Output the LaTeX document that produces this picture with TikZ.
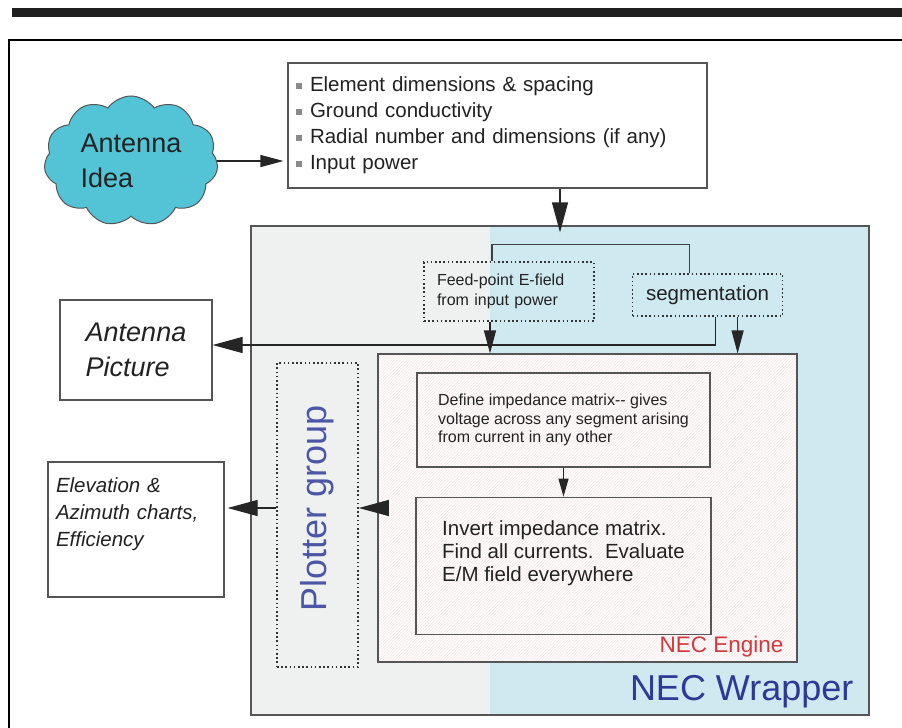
\documentclass[tikz,border=0pt]{standalone}
\usepackage{fontspec}
\setmainfont{Liberation Sans}
\usepackage{xcolor}
\usetikzlibrary{shapes.geometric, shapes.symbols, arrows.meta, positioning, patterns}

\definecolor{cloudcyan}{HTML}{52C4D6}
\definecolor{wrapblue}{HTML}{CFE9F1}
\definecolor{wrapgray}{HTML}{EFF1F1}
\definecolor{boxline}{HTML}{555555}
\definecolor{necblue}{HTML}{2B3A96}
\definecolor{necred}{HTML}{D03A3E}
\definecolor{bulgray}{HTML}{8A8A8A}
\definecolor{txt}{HTML}{222222}

\newcommand{\sqbul}{\textcolor{bulgray}{\rule[2.5pt]{6pt}{6pt}}\hspace{8pt}}
\newcommand{\fsz}[2]{\fontsize{#1}{#2}\selectfont}

\tikzstyle{plainbox} = [rectangle, draw=boxline, line width=1.2pt, text=txt]
\tikzstyle{dotbox} = [rectangle, draw=black!80, line width=1.6pt, dash pattern=on 1.6pt off 2.6pt, text=txt]
\tikzstyle{arrow} = [line width=1.2pt, draw=black!85, -{Triangle[length=23pt,width=12pt]}]
\tikzstyle{bigarrow} = [line width=1.2pt, draw=black!85, -{Triangle[length=30pt,width=16pt]}]
\tikzstyle{smallarrow} = [line width=1.2pt, draw=black!85, -{Triangle[length=18pt,width=10pt]}]
\tikzstyle{joinline} = [line width=1.2pt, draw=black!75]

\begin{document}
\begin{tikzpicture}[x=1pt, y=-1pt, node distance=29pt]
\useasboundingbox [fill=white] (0,0) rectangle (902,728);

% Frame
\fill [black!88] (12,8) rectangle (902,17);
\draw [line width=2.6pt] (9,728) -- (9,40) -- (902,40);

% Wrapper
\fill [wrapgray] (251,226) rectangle (490,715);
\fill [wrapblue] (490,226) rectangle (869,715);
\node (wrapper) [rectangle, draw=boxline, line width=1.2pt, minimum width=618pt, minimum height=489pt] at (560,470.5) {};
\node (wraplabel) [anchor=base east, text=necblue, font=\fsz{36}{40}, inner sep=0pt] at ([xshift=-16pt, yshift=15pt]wrapper.south east) {NEC Wrapper};

% Source
\node (idea) [cloud, cloud puffs=11, cloud puff arc=110, cloud ignores aspect, draw=boxline, fill=cloudcyan, line width=1pt, minimum width=174pt, minimum height=130pt, align=left, font=\fsz{27}{35}, text=txt] at (131,161) {Antenna\\Idea};

% Parameters
\node (input) [plainbox, fill=white, minimum width=419pt, minimum height=125pt, text width=403pt, align=left, font=\fsz{20.5}{26}] at (497.5,125.5) {\sqbul Element dimensions \& spacing\\
    \sqbul Ground conductivity\\
    \sqbul Radial number and dimensions (if any)\\
    \sqbul Input power};

% Pre-processing
\node (feed) [dotbox, minimum width=170pt, minimum height=59pt, text width=144pt, align=left, font=\fsz{16}{20}] at (509,291.5) {Feed-point E-field\\from input power};
\node (seg) [dotbox, right=37pt of feed, yshift=-3.5pt, minimum width=150pt, minimum height=42pt, font=\fsz{20.5}{24}] {segmentation};

% Engine
\node (engine) [rectangle, draw=boxline, line width=1.2pt, preaction={fill=white}, pattern=north east lines, pattern color=necred!14, minimum width=419pt, minimum height=308pt] at (587.5,508) {};
\node (englabel) [anchor=base east, text=necred, font=\fsz{22.5}{26}, inner sep=0pt] at ([xshift=-14pt, yshift=10pt]engine.south east) {NEC Engine};
\node (define) [plainbox, minimum width=293pt, minimum height=94pt, align=left, font=\fsz{16}{18.5}] at (563.5,420) {Define impedance matrix-{}- gives\\
    voltage across any segment arising\\
    from current in any other};
\node (invert) [plainbox, below=of define, minimum width=295pt, minimum height=137pt, align=left, font=\fsz{20.5}{23}] {Invert impedance matrix.\\
    Find all currents.\ \ Evaluate\\
    E/M field everywhere\\\strut};

% Plotter
\node (plotter) [dotbox, minimum width=81pt, minimum height=304pt] at (317.5,515) {};
\node (plotlabel) [rotate=90, text=necblue!85!white, font=\fsz{36}{40}] at ([yshift=6.5pt]plotter.center) {Plotter group};

% Outputs
\node (antpic) [plainbox, fill=white, minimum width=152pt, minimum height=100pt, align=left, font=\fsz{27}{35}\itshape] at (136,350) {Antenna\\Picture};
\node (elev) [plainbox, fill=white, minimum width=176pt, minimum height=135pt, text width=160pt, align=left, font=\fsz{20.5}{27}\itshape] at (136,529.5) {Elevation \&\\
    Azimuth charts,\\
    Efficiency\\\strut};

% Arrows
\draw [arrow] (idea.east) -- ([xshift=-4pt]idea.east -| input.west);
\draw [bigarrow] ([xshift=62.5pt]input.south) -- ([xshift=62.5pt, yshift=-7pt]input.south |- wrapper.north);
\draw [joinline] ([xshift=-17pt]feed.north) -- ++(0,-17) -| ([xshift=-18pt]seg.north);
\draw [arrow] ([xshift=-19pt]feed.south) -- ([xshift=-19pt]feed.south |- engine.north);
\draw [arrow] ([xshift=30pt]seg.south) -- ([xshift=30pt]seg.south |- engine.north);
\draw [bigarrow] ([xshift=8pt]seg.south) |- ([yshift=5pt]antpic.east);
\draw [smallarrow] (define) -- (invert);
\draw [bigarrow] (engine.west) -- (engine.west -| plotter.east);
\draw [bigarrow] (engine.west -| plotter.west) -- ([xshift=3pt]engine.west -| elev.east);

\end{tikzpicture}
\end{document}
